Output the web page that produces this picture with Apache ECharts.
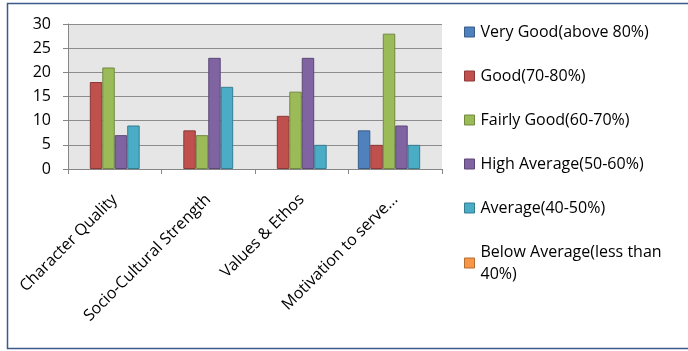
<!DOCTYPE html>
<html>
<head>
<meta charset="utf-8">
<script src="https://cdn.jsdelivr.net/npm/echarts@6/dist/echarts.min.js"></script>
<style>
html, body { margin: 0; padding: 0; background: #fff; }
#main { width: 688px; height: 351px; }
</style>
</head>
<body>
<div id="main"></div>
<script>
var categories = ['Character Quality', 'Socio-Cultural Strength', 'Values & Ethos', 'Motivation to serve...'];
var seriesNames = ['Very Good(above 80%)', 'Good(70-80%)', 'Fairly Good(60-70%)', 'High Average(50-60%)', 'Average(40-50%)', 'Below Average(less than 40%)'];
var veryGood = [0, 0, 0, 8];
var good = [18, 8, 11, 5];
var fairlyGood = [21, 7, 16, 28];
var highAverage = [7, 23, 23, 9];
var average = [9, 17, 5, 5];
var belowAverage = [0, 0, 0, 0];
var yTicks = [0, 30, 5]; // min, max, step

var fills = ['#4f81bd', '#c0504d', '#9bbb59', '#8064a2', '#4bacc6', '#f79646'];
var edges = ['#385d8a', '#8c3836', '#71893f', '#5c4776', '#357d91', '#b66d31'];
var values = [veryGood, good, fairlyGood, highAverage, average, belowAverage];

var font = 'Open Sans';
var chart = echarts.init(document.getElementById('main'));

var series = seriesNames.map(function (name, i) {
    return {
        name: name,
        type: 'bar',
        // zero bars are not drawn in the original (no border sliver)
        data: values[i].map(function (v) { return v === 0 ? null : v; }),
        barGap: '0%',
        barCategoryGap: '20%',
        itemStyle: { color: fills[i], borderColor: edges[i], borderWidth: 1 }
    };
});

var option = {
    animation: false,
    textStyle: { fontFamily: font },
    graphic: [{
        type: 'rect',
        shape: { x: 7.5, y: 3.5, width: 700, height: 345 },
        style: { fill: 'none', stroke: '#3e5a8a', lineWidth: 1.5 },
        z: 100
    }],
    grid: {
        left: 68, right: 246, top: 24, bottom: 182,
        show: true, backgroundColor: '#e6e6e6', borderWidth: 0
    },
    legend: {
        orient: 'vertical',
        left: 459, top: 16,
        itemWidth: 10, itemHeight: 10, itemGap: 22,
        icon: 'rect',
        data: seriesNames.map(function (n, i) {
            return { name: n, itemStyle: { color: fills[i], borderColor: edges[i], borderWidth: 1 } };
        }),
        formatter: function (n) {
            return n === 'Below Average(less than 40%)' ? 'Below Average(less than\n40%)' : n;
        },
        textStyle: { fontFamily: font, fontSize: 16, color: '#000', lineHeight: 22, padding: [0, 0, 0, 1] }
    },
    xAxis: {
        type: 'category',
        data: categories,
        axisLine: { lineStyle: { color: '#868686' } },
        axisTick: { show: true, length: 5, lineStyle: { color: '#868686' } },
        axisLabel: { rotate: 45, fontFamily: font, fontSize: 16, color: '#000', margin: 28, interval: 0 }
    },
    yAxis: {
        type: 'value',
        min: yTicks[0], max: yTicks[1], interval: yTicks[2],
        axisLine: { show: true, lineStyle: { color: '#868686' } },
        axisTick: { show: true, length: 5, lineStyle: { color: '#868686' } },
        splitLine: { lineStyle: { color: '#8c8c8c' } },
        axisLabel: { fontFamily: font, fontSize: 16, color: '#000', margin: 17 }
    },
    series: series
};
chart.setOption(option);
</script>
</body>
</html>
